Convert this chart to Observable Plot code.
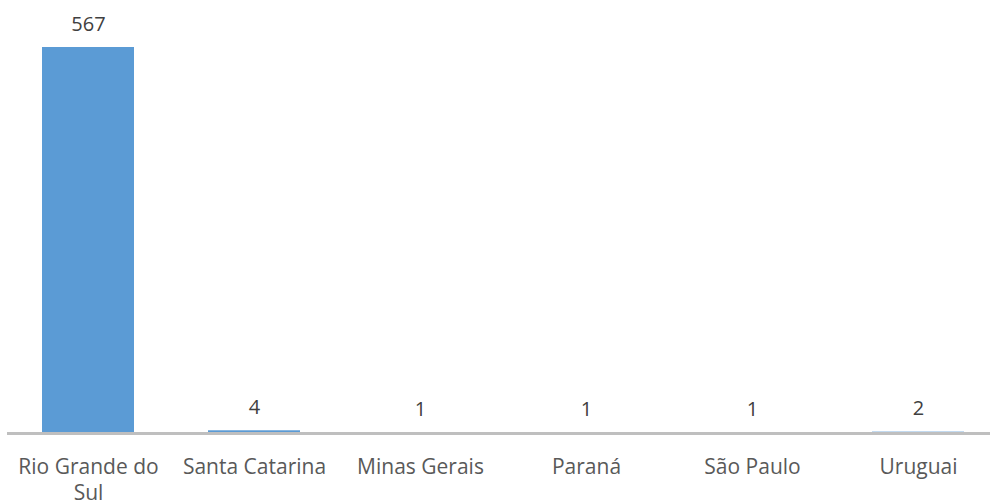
<!DOCTYPE html>
<html>
<head>
<meta charset="utf-8">
<script src="https://cdn.jsdelivr.net/npm/d3@7"></script>
<script src="https://cdn.jsdelivr.net/npm/@observablehq/plot@0.6"></script>
<style>
  html, body { margin: 0; padding: 0; background: #fff; }
  #chart svg { display: block; }
</style>
</head>
<body>
<div id="chart"></div>
<script>
const categories = ["Rio Grande do Sul", "Santa Catarina", "Minas Gerais", "Paraná", "São Paulo", "Uruguai"];
const values = [567, 4, 1, 1, 1, 2];

const data = categories.map((c, i) => ({category: c, value: values[i]}));

const wrap = d => d.length > 15 ? d.replace(/ (\S+)$/, "\n$1") : d;

const chart = Plot.plot({
  width: 990,
  height: 503,
  marginTop: 47,
  marginBottom: 70,
  marginLeft: 7,
  marginRight: 0,
  style: {fontFamily: "'Open Sans', sans-serif", background: "#fff", overflow: "visible"},
  x: {domain: categories, range: [5, 1001], paddingInner: 0.446, paddingOuter: 0.223},
  y: {domain: [0, 567], axis: null},
  marks: [
    Plot.barY(data, {x: "category", y: "value", fill: "#5b9bd5"}),
    Plot.ruleY([0], {stroke: "#bfbfbf", strokeWidth: 3}),
    Plot.text(data, {x: "category", y: "value", text: d => String(d.value), lineAnchor: "bottom", dy: -17, fontSize: 20, fill: "#404040"}),
    Plot.axisX({tickSize: 0, tickPadding: 22, tickFormat: wrap, fontSize: 21, lineHeight: 1.25, fill: "#595959", label: null})
  ]
});
document.getElementById("chart").appendChild(chart);
</script>
</body>
</html>
